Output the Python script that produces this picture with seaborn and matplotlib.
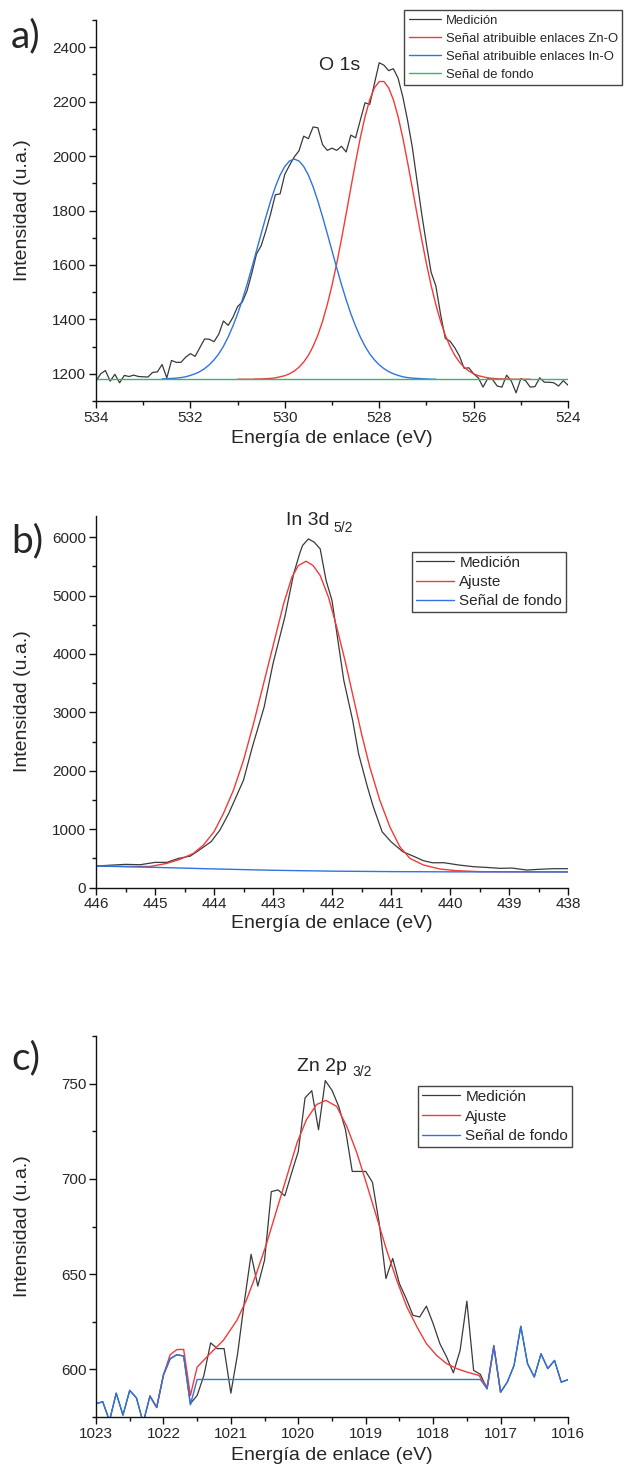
import matplotlib
matplotlib.use("Agg")
import matplotlib.pyplot as plt
from matplotlib.ticker import MultipleLocator
import seaborn as sns
import pandas as pd

# ---------------- Panel a: O 1s ----------------
a_energy = [534.0, 533.9, 533.8, 533.7, 533.6, 533.5, 533.4, 533.3, 533.2, 533.1,
            533.0, 532.9, 532.8, 532.7, 532.6, 532.5, 532.4, 532.3, 532.2, 532.1,
            532.0, 531.9, 531.8, 531.7, 531.6, 531.5, 531.4, 531.3, 531.2, 531.1,
            531.0, 530.9, 530.8, 530.7, 530.6, 530.5, 530.4, 530.3, 530.2, 530.1,
            530.0, 529.9, 529.8, 529.7, 529.6, 529.5, 529.4, 529.3, 529.2, 529.1,
            529.0, 528.9, 528.8, 528.7, 528.6, 528.5, 528.4, 528.3, 528.2, 528.1,
            528.0, 527.9, 527.8, 527.7, 527.6, 527.5, 527.4, 527.3, 527.2, 527.1,
            527.0, 526.9, 526.8, 526.7, 526.6, 526.5, 526.4, 526.3, 526.2, 526.1,
            526.0, 525.9, 525.8, 525.7, 525.6, 525.5, 525.4, 525.3, 525.2, 525.1,
            525.0, 524.9, 524.8, 524.7, 524.6, 524.5, 524.4, 524.3, 524.2, 524.1,
            524.0]
a_meas = [1173, 1200, 1212, 1173, 1198, 1167, 1194, 1190, 1195, 1190,
          1189, 1188, 1205, 1207, 1234, 1185, 1249, 1242, 1242, 1261,
          1274, 1264, 1296, 1328, 1327, 1318, 1345, 1394, 1378, 1407,
          1447, 1464, 1505, 1569, 1640, 1671, 1726, 1788, 1858, 1861,
          1933, 1966, 1997, 2019, 2073, 2064, 2107, 2104, 2042, 2021,
          2029, 2021, 2036, 2015, 2077, 2067, 2132, 2196, 2190, 2267,
          2343, 2334, 2314, 2321, 2286, 2218, 2132, 2034, 1911, 1788,
          1677, 1573, 1523, 1419, 1330, 1320, 1296, 1265, 1220, 1222,
          1200, 1185, 1151, 1183, 1179, 1155, 1151, 1195, 1173, 1130,
          1182, 1175, 1151, 1153, 1185, 1169, 1169, 1167, 1155, 1175,
          1158]
a_zno_energy = [531.0, 530.9, 530.8, 530.7, 530.6, 530.5, 530.4, 530.3, 530.2, 530.1,
                530.0, 529.9, 529.8, 529.7, 529.6, 529.5, 529.4, 529.3, 529.2, 529.1,
                529.0, 528.9, 528.8, 528.7, 528.6, 528.5, 528.4, 528.3, 528.2, 528.1,
                528.0, 527.9, 527.8, 527.7, 527.6, 527.5, 527.4, 527.3, 527.2, 527.1,
                527.0, 526.9, 526.8, 526.7, 526.6, 526.5, 526.4, 526.3, 526.2, 526.1,
                526.0, 525.9, 525.8, 525.7, 525.6, 525.5, 525.4, 525.3, 525.2, 525.1,
                525.0, 524.9, 524.8]
a_zno = [1180, 1180, 1180, 1180, 1181, 1181, 1182, 1183, 1185, 1189,
         1193, 1200, 1210, 1224, 1243, 1268, 1301, 1342, 1393, 1454,
         1525, 1605, 1694, 1788, 1884, 1978, 2067, 2145, 2207, 2251,
         2274, 2274, 2251, 2207, 2145, 2067, 1978, 1884, 1788, 1694,
         1605, 1525, 1454, 1393, 1342, 1301, 1268, 1243, 1224, 1210,
         1200, 1193, 1189, 1185, 1183, 1182, 1181, 1181, 1180, 1180,
         1180, 1180, 1180]
a_ino_energy = [532.6, 532.5, 532.4, 532.3, 532.2, 532.1, 532.0, 531.9, 531.8, 531.7,
                531.6, 531.5, 531.4, 531.3, 531.2, 531.1, 531.0, 530.9, 530.8, 530.7,
                530.6, 530.5, 530.4, 530.3, 530.2, 530.1, 530.0, 529.9, 529.8, 529.7,
                529.6, 529.5, 529.4, 529.3, 529.2, 529.1, 529.0, 528.9, 528.8, 528.7,
                528.6, 528.5, 528.4, 528.3, 528.2, 528.1, 528.0, 527.9, 527.8, 527.7,
                527.6, 527.5, 527.4, 527.3, 527.2, 527.1, 527.0, 526.9, 526.8]
a_ino = [1181, 1182, 1183, 1184, 1186, 1189, 1194, 1200, 1208, 1219,
         1233, 1251, 1273, 1301, 1335, 1375, 1420, 1472, 1528, 1589,
         1652, 1715, 1777, 1835, 1887, 1930, 1962, 1982, 1989, 1982,
         1962, 1930, 1887, 1835, 1777, 1715, 1652, 1589, 1528, 1472,
         1420, 1375, 1335, 1301, 1273, 1251, 1233, 1219, 1208, 1200,
         1194, 1189, 1186, 1184, 1183, 1182, 1181, 1180, 1180]
a_bg_energy = [534.0, 524.0]
a_bg = [1180, 1180]

# ---------------- Panel b: In 3d 5/2 ----------------
b_energy = [446.0, 445.7, 445.5, 445.25, 445.0, 444.8, 444.6, 444.4, 444.25, 444.05,
            443.9, 443.75, 443.5, 443.35, 443.15, 443.0, 442.8, 442.65, 442.55, 442.5,
            442.4, 442.3, 442.2, 442.1, 442.0, 441.9, 441.8, 441.65, 441.55, 441.4,
            441.3, 441.15, 441.0, 440.8, 440.6, 440.45, 440.3, 440.1, 439.85, 439.6,
            439.4, 439.15, 438.95, 438.7, 438.5, 438.25, 438.0]
b_meas = [368, 385, 396, 390, 430, 430, 499, 538, 641, 784,
          983, 1268, 1838, 2407, 3091, 3832, 4630, 5371, 5712, 5855,
          5969, 5912, 5798, 5257, 4915, 4231, 3547, 2863, 2293, 1724,
          1382, 954, 784, 613, 527, 459, 424, 424, 385, 356,
          345, 328, 333, 299, 311, 322, 322]
b_fit_energy = [446.0, 445.42, 445.08, 444.8, 444.58, 444.35, 444.18, 444.0, 443.84, 443.67,
                443.5, 443.33, 443.16, 442.99, 442.82, 442.68, 442.57, 442.44, 442.32, 442.2,
                442.06, 441.92, 441.78, 441.64, 441.5, 441.36, 441.19, 441.02, 440.85, 440.68,
                440.45, 440.17, 439.89, 439.49, 438.0]
b_fit = [368, 360, 360, 413, 481, 584, 726, 954, 1268, 1667,
         2179, 2806, 3490, 4174, 4858, 5314, 5513, 5587, 5513, 5342,
         4972, 4459, 3889, 3262, 2635, 2065, 1496, 1040, 698, 499,
         385, 316, 288, 271, 268]
b_bg_energy = [446.0, 445.0, 444.0, 443.0, 442.0, 441.0, 440.0, 438.0]
b_bg = [367, 345, 318, 295, 280, 272, 268, 265]

# ---------------- Panel c: Zn 2p 3/2 ----------------
c_energy = [1023.0, 1022.9, 1022.8, 1022.7, 1022.6, 1022.5, 1022.4, 1022.3, 1022.2, 1022.1,
            1022.0, 1021.9, 1021.8, 1021.7, 1021.6, 1021.5, 1021.4, 1021.3, 1021.2, 1021.1,
            1021.0, 1020.9, 1020.8, 1020.7, 1020.6, 1020.5, 1020.4, 1020.3, 1020.2, 1020.1,
            1020.0, 1019.9, 1019.8, 1019.7, 1019.6, 1019.5, 1019.4, 1019.3, 1019.2, 1019.1,
            1019.0, 1018.9, 1018.8, 1018.7, 1018.6, 1018.5, 1018.4, 1018.3, 1018.2, 1018.1,
            1018.0, 1017.9, 1017.8, 1017.7, 1017.6, 1017.5, 1017.4, 1017.3, 1017.2, 1017.1,
            1017.0, 1016.9, 1016.8, 1016.7, 1016.6, 1016.5, 1016.4, 1016.3, 1016.2, 1016.1,
            1016.0]
c_meas = [582, 583, 573, 587.5, 576, 589, 585, 572, 586, 580,
          597, 605.6, 607.7, 607, 582, 586.3, 596.8, 613.9, 610.9, 610.9,
          587.5, 608.2, 635.4, 660.4, 643.7, 657.4, 693.3, 694.2, 691.1, 703,
          714.4, 742.5, 746.3, 725.8, 751.6, 746.5, 738, 725.8, 703.9, 703.9,
          703.9, 698.2, 676.7, 647.7, 658.2, 645, 637.2, 628.4, 627.5, 633.2,
          624, 613.5, 606.5, 598.2, 610, 635.8, 599.5, 597.4, 589.8, 612.1,
          588, 593.3, 602.1, 622.6, 603, 596, 608.2, 600.4, 604.7, 593.3,
          594.6]
c_fit_energy = [1022.2, 1022.1, 1022.0, 1021.9, 1021.8, 1021.7, 1021.6, 1021.5, 1021.31, 1021.11,
                1020.91, 1020.77, 1020.62, 1020.47, 1020.32, 1020.17, 1020.02, 1019.88, 1019.73, 1019.59,
                1019.43, 1019.28, 1019.13, 1018.99, 1018.84, 1018.69, 1018.54, 1018.39, 1018.24, 1018.1,
                1017.95, 1017.8, 1017.65, 1017.5, 1017.32, 1017.2, 1017.1, 1017.0]
c_fit = [586, 580, 597, 607.7, 610.4, 610.5, 586.3, 601.2, 608.2, 615.3,
         625.8, 636.3, 650.4, 666.1, 683.7, 701.2, 718.8, 731, 739, 741.2,
         738, 727.5, 713.5, 697.7, 680.2, 662.6, 646.8, 632.8, 622.3, 613.5,
         607.4, 603, 600.4, 598.6, 596.8, 590.7, 612.6, 588]
c_bg_energy = [1023.0, 1022.9, 1022.8, 1022.7, 1022.6, 1022.5, 1022.4, 1022.3, 1022.2, 1022.1,
               1022.0, 1021.9, 1021.8, 1021.7, 1021.6, 1021.5, 1017.3, 1017.2, 1017.1, 1017.0,
               1016.9, 1016.8, 1016.7, 1016.6, 1016.5, 1016.4, 1016.3, 1016.2, 1016.1, 1016.0]
c_bg = [582, 583, 573, 587.5, 576, 589, 585, 572, 586, 580,
        597, 605.6, 607.7, 607, 581.4, 594.7, 594.7, 589.8, 612.1, 588,
        593.3, 602.1, 622.6, 603, 596, 608.2, 600.4, 604.7, 593.3, 594.6]

# ---------------- styling ----------------
sns.set_style("ticks")
plt.rcParams['font.family'] = ['Liberation Sans', 'DejaVu Sans']
plt.rcParams['axes.linewidth'] = 1.0

C_MEAS = '#3a3a3a'
C_RED = '#f23a3a'
C_BLUE = '#2f74e0'
C_GREEN = '#3cb371'
LW = 1.0

W, H = 639, 1479
fig = plt.figure(figsize=(W / 100, H / 100), dpi=100)


def make_axes(top, bottom):
    return fig.add_axes([96 / W, 1 - bottom / H, 472 / W, (bottom - top) / H])


def style_axes(ax, xlim, ylim, xmaj, xmin, ymaj, ymin, xl_y):
    ax.set_xlim(*xlim)
    ax.set_ylim(*ylim)
    ax.xaxis.set_major_locator(MultipleLocator(xmaj))
    ax.xaxis.set_minor_locator(MultipleLocator(xmin))
    ax.yaxis.set_major_locator(MultipleLocator(ymaj))
    ax.yaxis.set_minor_locator(MultipleLocator(ymin))
    for s in ['top', 'right']:
        ax.spines[s].set_visible(False)
    for s in ['left', 'bottom']:
        ax.spines[s].set_color('#111111')
        ax.spines[s].set_linewidth(1.0)
    ax.tick_params(which='major', direction='out', length=5, width=1.0,
                   labelsize=11, color='#111111', pad=2)
    ax.tick_params(which='minor', direction='out', length=3, width=1.0,
                   color='#111111')
    ax.set_xlabel('Energía de enlace (eV)', fontsize=14)
    ax.set_ylabel('Intensidad (u.a.)', fontsize=14)
    ax.xaxis.set_label_coords(0.5, xl_y)
    ax.yaxis.set_label_coords(-0.138, 0.5)


def line(ax, x, y, color, label, lw=LW):
    df = pd.DataFrame({'x': x, 'y': y})
    sns.lineplot(data=df, x='x', y='y', ax=ax, color=color, linewidth=lw,
                 label=label, estimator=None, sort=False)


def legend(ax, px, py, fs, spacing, bpad=0.25):
    leg = ax.legend(loc='upper left', bbox_to_anchor=(px / W, 1 - py / H),
                    bbox_transform=fig.transFigure, fontsize=fs, frameon=True,
                    fancybox=False, framealpha=1, edgecolor='#444444',
                    borderpad=bpad, labelspacing=spacing, handlelength=2.5,
                    handletextpad=0.35, borderaxespad=0)
    leg.get_frame().set_linewidth(1.0)


# Panel a
axa = make_axes(20, 401)
line(axa, a_energy, a_meas, C_MEAS, 'Medición', 0.9)
line(axa, a_zno_energy, a_zno, C_RED, 'Señal atribuible enlaces Zn-O')
line(axa, a_ino_energy, a_ino, C_BLUE, 'Señal atribuible enlaces In-O')
line(axa, a_bg_energy, a_bg, C_GREEN, 'Señal de fondo')
style_axes(axa, (534, 524), (1100, 2500), 2, 1, 200, 100, -0.076)
legend(axa, 404, 10, 9.4, 0.45, 0.35)
axa.text(340 / W, 1 - 70 / H, 'O 1s', transform=fig.transFigure,
         fontsize=14, ha='center', va='baseline')

# Panel b
axb = make_axes(515.5, 887.5)
line(axb, b_energy, b_meas, C_MEAS, 'Medición', 0.9)
line(axb, b_fit_energy, b_fit, C_RED, 'Ajuste')
line(axb, b_bg_energy, b_bg, C_BLUE, 'Señal de fondo')
style_axes(axb, (446, 438), (0, 6370), 1, 0.5, 1000, 500, -0.074)
legend(axb, 412, 552, 11, 0.33)
axb.text(329 / W, 1 - 525 / H, 'In 3d', transform=fig.transFigure,
         fontsize=14, ha='right', va='baseline')
axb.text(333 / W, 1 - 532 / H, '5/2', transform=fig.transFigure,
         fontsize=10, ha='left', va='baseline')

# Panel c
axc = make_axes(1036, 1417)
line(axc, c_energy, c_meas, C_MEAS, 'Medición', 0.9)
line(axc, c_fit_energy, c_fit, C_RED, 'Ajuste')
line(axc, c_bg_energy, c_bg, C_BLUE, 'Señal de fondo')
style_axes(axc, (1023, 1016), (575, 775), 1, 0.5, 50, 25, -0.079)
legend(axc, 418, 1086, 11, 0.38)
axc.text(347 / W, 1 - 1071 / H, 'Zn 2p', transform=fig.transFigure,
         fontsize=14, ha='right', va='baseline')
axc.text(352 / W, 1 - 1076 / H, '3/2', transform=fig.transFigure,
         fontsize=10, ha='left', va='baseline')

# Panel letters
for lab, yc in [('a)', 36), ('b)', 541), ('c)', 1058)]:
    fig.text(11 / W, 1 - yc / H, lab, fontsize=28, ha='left', va='center',
             family=['Lato', 'DejaVu Sans'])

fig.savefig('out.png', dpi=100)
